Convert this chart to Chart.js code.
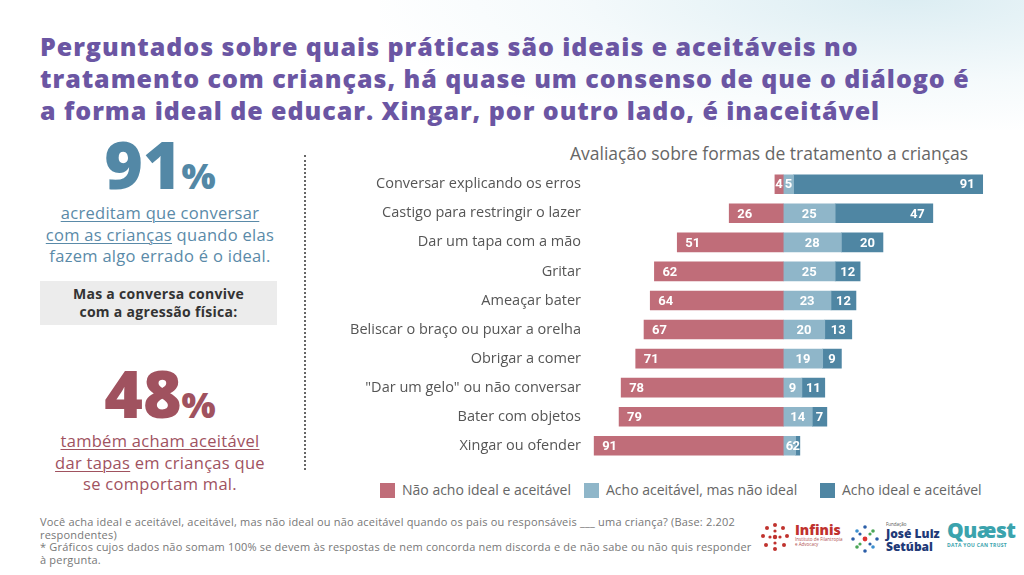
<!DOCTYPE html>
<html lang="pt-BR">
<head>
<meta charset="utf-8">
<script src="https://cdn.jsdelivr.net/npm/chart.js@4.4.1/dist/chart.umd.min.js"></script>
<style>
  html, body { margin: 0; padding: 0; }
  body {
    width: 1024px; height: 575px; position: relative; overflow: hidden;
    background: #fff;
    font-family: "Open Sans", sans-serif;
  }
  .wash {
    position: absolute; left: 380px; top: -60px; width: 700px; height: 190px;
    background: radial-gradient(ellipse at 75% 30%, rgba(190,222,232,0.55), rgba(225,240,245,0.35) 45%, rgba(255,255,255,0) 75%);
  }
  .title {
    position: absolute; left: 40px; top: 30px;
    color: #6b56a3; font-weight: 800; font-size: 25px; line-height: 32px;
    letter-spacing: 0.95px;
  }
  .big {
    position: absolute; font-weight: 800; text-align: center; width: 240px; left: 40px;
  }
  .big .pct { font-size: 36px; }
  .blurb {
    position: absolute; left: 10px; width: 300px; text-align: center;
    font-size: 16.5px; line-height: 21.5px; letter-spacing: 0.3px;
  }
  .blurb u { text-underline-offset: 2px; text-decoration-thickness: 1px; }
  .box {
    position: absolute; left: 40px; top: 281px; width: 237px; height: 44px;
    background: #ececec; color: #333; font-weight: 700; font-size: 14px;
    line-height: 18px; text-align: center; padding-top: 4px; box-sizing: border-box;
    letter-spacing: 0.3px;
  }
  .divider {
    position: absolute; left: 304px; top: 155px; height: 315px;
    border-left: 2px dotted #666;
  }
  .subtitle {
    position: absolute; left: 570px; top: 141px; color: #666;
    font-size: 17.5px; font-weight: 400;
  }
  #chartWrap { position: absolute; left: 340px; top: 152px; width: 651px; height: 326px; }
  .legend { position: absolute; top: 480px; font-size: 14px; color: #666; }
  .legend span.sw { display: inline-block; width: 15px; height: 15px; vertical-align: -3px; margin-right: 7px; }
  .foot {
    position: absolute; left: 40px; top: 516px; width: 720px;
    font-size: 11px; line-height: 12.7px; color: #777; letter-spacing: 0.2px;
  }
  .logo { position: absolute; }
</style>
</head>
<body>
<div class="wash"></div>

<div class="title">Perguntados sobre quais práticas são ideais e aceitáveis no<br>tratamento com crianças, há quase um consenso de que o diálogo é<br>a forma ideal de educar. Xingar, por outro lado, é inaceitável</div>

<div class="big" style="top:123px; color:#5388a6; font-size:66px; line-height:80px;">91<span class="pct">%</span></div>
<div class="blurb" style="top:202px; color:#5a8aa8;"><u>acreditam que conversar<br>com as crianças</u> quando elas<br>fazem algo errado é o ideal.</div>

<div class="box">Mas a conversa convive<br>com a agressão física:</div>

<div class="big" style="top:352px; color:#a0525f; font-size:66px; line-height:80px;">48<span class="pct">%</span></div>
<div class="blurb" style="top:430px; color:#a0525f;"><u>também acham aceitável<br>dar tapas</u> em crianças que<br>se comportam mal.</div>

<div class="divider"></div>

<div class="subtitle">Avaliação sobre formas de tratamento a crianças</div>

<div id="chartWrap"><canvas id="chart"></canvas></div>

<div id="legend"></div>

<div class="foot">Você acha ideal e aceitável, aceitável, mas não ideal ou não aceitável quando os pais ou responsáveis ___ uma criança? (Base: 2.202<br>respondentes)<br>* Gráficos cujos dados não somam 100% se devem às respostas de nem concorda nem discorda e de não sabe ou não quis responder<br>à pergunta.</div>

<!-- logos (texto) -->
<div class="logo" style="left:760px; top:522px;">
  <svg width="30" height="30" viewBox="0 0 30 30">
    <g fill="#c0322e">
      <circle cx="15" cy="3" r="2"/><circle cx="23" cy="6" r="2"/><circle cx="27" cy="14" r="2"/>
      <circle cx="24" cy="23" r="2"/><circle cx="15" cy="27" r="2"/><circle cx="6" cy="23" r="2"/>
      <circle cx="3" cy="14" r="2"/><circle cx="7" cy="6" r="2"/><circle cx="15" cy="15" r="2.2"/>
      <circle cx="15" cy="9" r="1.6"/><circle cx="20" cy="15" r="1.6"/><circle cx="10" cy="15" r="1.6"/>
      <circle cx="15" cy="21" r="1.6"/>
    </g>
  </svg>
</div>
<div class="logo" style="left:795px; top:522px; color:#c0322e; font-weight:800; font-size:14px; line-height:15px;">Infinis
  <div style="font-size:4.5px; line-height:5px; font-weight:400; color:#b05050;">Instituto de Filantropia<br>e Advocacy</div>
</div>
<div class="logo" style="left:850px; top:524px;">
  <svg width="30" height="30" viewBox="0 0 30 30">
    <g fill="#2b5ea8">
      <circle cx="15" cy="3" r="1.8"/><circle cx="27" cy="15" r="1.8"/><circle cx="15" cy="27" r="1.8"/><circle cx="3" cy="15" r="1.8"/>
      <circle cx="10" cy="10" r="1.6"/><circle cx="20" cy="20" r="1.6"/>
    </g>
    <g fill="#4aa657">
      <circle cx="23" cy="7" r="1.8"/><circle cx="7" cy="23" r="1.8"/><circle cx="20" cy="10" r="1.6"/><circle cx="10" cy="20" r="1.6"/>
    </g>
    <g fill="#3b8fd0"><circle cx="23" cy="23" r="1.8"/><circle cx="7" cy="7" r="1.8"/></g>
    <circle cx="15" cy="15" r="2.4" fill="#d33"/>
  </svg>
</div>
<div class="logo" style="left:886px; top:521px; color:#1f3a78; font-weight:800; font-size:12px; line-height:13px;">
  <div style="font-size:4.5px; line-height:6px; font-weight:400; color:#555;">Fundação</div>José Luiz<br>Setúbal
</div>
<div class="logo" style="left:947px; top:518px; color:#3ba3ad; font-weight:800; font-size:21px; line-height:24px; letter-spacing:-0.5px;">Quæst
  <div style="font-size:5px; line-height:6px; font-weight:700; letter-spacing:0.3px;">DATA YOU CAN TRUST</div>
</div>

<script>
// categorias (de cima para baixo)
const categories = [
  "Conversar explicando os erros",
  "Castigo para restringir o lazer",
  "Dar um tapa com a mão",
  "Gritar",
  "Ameaçar bater",
  "Beliscar o braço ou puxar a orelha",
  "Obrigar a comer",
  "\"Dar um gelo\" ou não conversar",
  "Bater com objetos",
  "Xingar ou ofender"
];

// valores (%) por série
const naoAceitavel      = [4, 26, 51, 62, 64, 67, 71, 78, 79, 91];
const aceitavelNaoIdeal = [5, 25, 28, 25, 23, 20, 19, 9, 14, 6];
const idealAceitavel    = [91, 47, 20, 12, 12, 13, 9, 11, 7, 2];

const seriesNames  = ["Não acho ideal e aceitável", "Acho aceitável, mas não ideal", "Acho ideal e aceitável"];
const seriesColors = ["#c06d79", "#8fb6c9", "#4f86a3"];

// rótulos brancos dentro das barras
const barLabels = {
  id: 'barLabels',
  afterDatasetsDraw(chart) {
    const ctx = chart.ctx;
    ctx.save();
    ctx.font = 'bold 13px Roboto';
    ctx.fillStyle = '#fff';
    ctx.textBaseline = 'middle';
    chart.data.datasets.forEach((ds, di) => {
      const meta = chart.getDatasetMeta(di);
      meta.data.forEach((bar, i) => {
        const txt = String(Math.abs(ds.data[i]));
        const left = Math.min(bar.x, bar.base);
        const right = Math.max(bar.x, bar.base);
        const w = right - left;
        const tw = ctx.measureText(txt).width;
        const pad = Math.max(0, Math.min(8, (w - tw) / 2));
        let x;
        if (ds.labelAlign === 'start') { ctx.textAlign = 'left'; x = left + pad; }
        else if (ds.labelAlign === 'end') { ctx.textAlign = 'right'; x = right - pad; }
        else { ctx.textAlign = 'center'; x = (left + right) / 2; }
        ctx.fillText(txt, x, bar.y + 1);
      });
    });
    ctx.restore();
  }
};

const ctx = document.getElementById("chart").getContext("2d");
new Chart(ctx, {
  type: 'bar',
  data: {
    labels: categories,
    datasets: [
      { label: seriesNames[0], data: naoAceitavel.map(v => -v), backgroundColor: seriesColors[0], labelAlign: 'start' },
      { label: seriesNames[1], data: aceitavelNaoIdeal, backgroundColor: seriesColors[1], labelAlign: 'center' },
      { label: seriesNames[2], data: idealAceitavel, backgroundColor: seriesColors[2], labelAlign: 'end' }
    ]
  },
  options: {
    indexAxis: 'y',
    responsive: true,
    maintainAspectRatio: false,
    animation: false,
    datasets: { bar: { barThickness: 19, borderWidth: 0 } },
    layout: { padding: 0 },
    plugins: { legend: { display: false }, tooltip: { enabled: false } },
    scales: {
      x: { stacked: true, min: -93, max: 100, display: false },
      y: {
        stacked: true,
        grid: { display: false, drawTicks: false },
        border: { display: false },
        ticks: { color: '#555', padding: 9, font: { family: 'Open Sans', size: 14.5 } },
        afterFit: scale => { scale.width = 250; }
      }
    }
  },
  plugins: [barLabels]
});

// legenda
const legendX = [380, 584, 820];
document.getElementById('legend').innerHTML = seriesNames.map((name, i) =>
  `<div class="legend" style="left:${legendX[i]}px"><span class="sw" style="background:${seriesColors[i]}"></span>${name}</div>`
).join('');
</script>
</body>
</html>
